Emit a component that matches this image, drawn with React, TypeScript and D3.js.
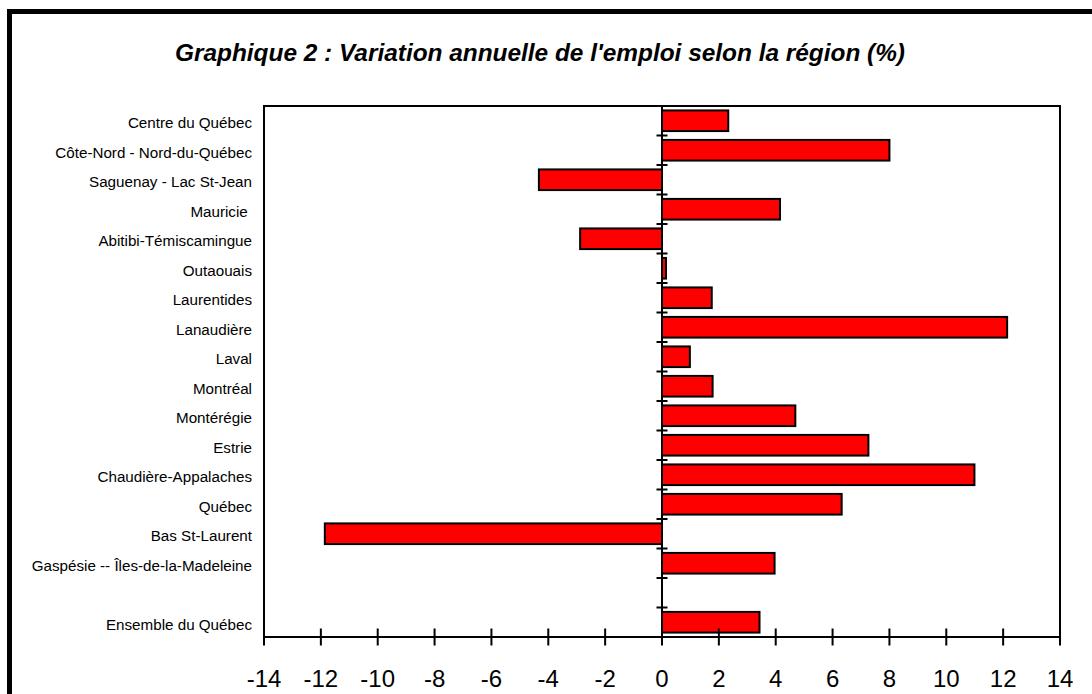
import React from "react";
import * as d3 from "d3";

const regions: string[] = [
  "Centre du Québec",
  "Côte-Nord - Nord-du-Québec",
  "Saguenay - Lac St-Jean",
  "Mauricie ",
  "Abitibi-Témiscamingue",
  "Outaouais",
  "Laurentides",
  "Lanaudière",
  "Laval",
  "Montréal",
  "Montérégie",
  "Estrie",
  "Chaudière-Appalaches",
  "Québec",
  "Bas St-Laurent",
  "Gaspésie -- Îles-de-la-Madeleine",
  "",
  "Ensemble du Québec",
];

const variation: (number | null)[] = [
  2.33, 8.0, -4.33, 4.15, -2.88, 0.14, 1.75, 12.14, 0.98, 1.78, 4.69, 7.26,
  10.99, 6.32, -11.86, 3.96, null, 3.43,
];

const xTicks: number[] = [-14, -12, -10, -8, -6, -4, -2, 0, 2, 4, 6, 8, 10, 12, 14];

const title = "Graphique 2 : Variation annuelle de l'emploi selon la région (%)";

const W = 1092;
const H = 694;
const plot = { left: 264, right: 1060, top: 106, bottom: 637 };
const font = "Arial, 'Liberation Sans', Helvetica, sans-serif";

export default function App() {
  const x = d3.scaleLinear().domain([-14, 14]).range([plot.left, plot.right]);
  const keys = regions.map((_, i) => String(i));
  const y = d3
    .scaleBand<string>()
    .domain(keys)
    .range([plot.top, plot.bottom])
    .paddingInner(0.3)
    .paddingOuter(0.15);
  const bandTop = (i: number) => plot.top + i * ((plot.bottom - plot.top) / regions.length);
  const x0 = x(0);

  return (
    <svg
      width={W}
      height={H}
      style={{ position: "absolute", left: 0, top: 0, background: "#fff" }}
      fontFamily={font}
    >
      <rect x={0} y={0} width={W} height={H} fill="#fff" />
      {/* outer frame */}
      <rect x={9.5} y={11.5} width={W + 20} height={H + 20} fill="none" stroke="#000" strokeWidth={5} />
      {/* title */}
      <text
        x={540}
        y={61}
        textAnchor="middle"
        fontSize={24.4}
        fontWeight="bold"
        fontStyle="italic"
        fill="#000"
      >
        {title}
      </text>
      {/* plot frame */}
      <rect
        x={plot.left}
        y={plot.top}
        width={plot.right - plot.left}
        height={plot.bottom - plot.top}
        fill="none"
        stroke="#000"
        strokeWidth={2}
      />
      {/* bars */}
      {variation.map((v, i) => {
        if (v === null) return null;
        const yy = y(keys[i]) as number;
        const xa = Math.min(x(v), x0);
        const wd = Math.abs(x(v) - x0);
        return (
          <rect
            key={i}
            x={xa}
            y={yy}
            width={wd}
            height={y.bandwidth()}
            fill="#FF0000"
            stroke="#000"
            strokeWidth={2}
          />
        );
      })}
      {/* zero axis */}
      <line x1={x0} x2={x0} y1={plot.top} y2={plot.bottom} stroke="#000" strokeWidth={2} />
      {regions.map((_, i) => (
        <line
          key={"t" + i}
          x1={x0 - 5.5}
          x2={x0 + 5.5}
          y1={bandTop(i)}
          y2={bandTop(i)}
          stroke="#000"
          strokeWidth={2}
        />
      ))}
      {/* category labels */}
      {regions.map((r, i) => (
        <text
          key={"l" + i}
          x={252}
          y={(y(keys[i]) as number) + y.bandwidth() / 2 + 7.5}
          textAnchor="end"
          fontSize={15.2}
          fill="#000"
          style={{ whiteSpace: "pre" }}
        >
          {r}
        </text>
      ))}
      {/* x axis ticks */}
      {xTicks.map((t) => (
        <g key={"x" + t}>
          <line x1={x(t)} x2={x(t)} y1={628.5} y2={645.5} stroke="#000" strokeWidth={2} />
          <text x={x(t)} y={687} textAnchor="middle" fontSize={24} fill="#000">
            {t}
          </text>
        </g>
      ))}
      <line x1={plot.left} x2={plot.right} y1={plot.bottom} y2={plot.bottom} stroke="#000" strokeWidth={2} />
    </svg>
  );
}
